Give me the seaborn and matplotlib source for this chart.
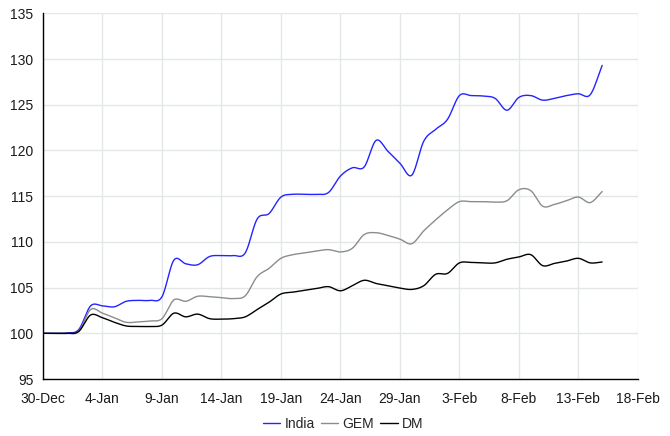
import numpy as np
import pandas as pd
import matplotlib
matplotlib.use("Agg")
import matplotlib.pyplot as plt
import seaborn as sns

# Daily index levels (30-Dec = 100), USD terms
start = pd.Timestamp("2011-12-30")
day_offsets = list(range(48))

india = [100.0, 100.0, 100.05, 100.4, 103.0, 103.0, 102.9, 103.5, 103.6, 103.6,
         104.0, 108.0, 107.6, 107.5, 108.4, 108.5, 108.5, 108.8, 112.5, 113.1,
         114.9, 115.2, 115.2, 115.2, 115.4, 117.2, 118.1, 118.2, 121.1, 119.9,
         118.6, 117.3, 121.0, 122.3, 123.4, 126.0, 126.0, 125.95, 125.7, 124.4,
         125.8, 126.0, 125.5, 125.7, 126.0, 126.2, 126.1, 129.3]
gem = [100.0, 100.0, 100.0, 100.2, 102.6, 102.2, 101.7, 101.2, 101.25, 101.35,
       101.6, 103.65, 103.5, 104.05, 104.0, 103.9, 103.8, 104.1, 106.2, 107.1,
       108.2, 108.6, 108.8, 109.0, 109.15, 108.9, 109.3, 110.8, 111.0, 110.7,
       110.3, 109.8, 111.2, 112.4, 113.5, 114.4, 114.4, 114.4, 114.35, 114.5,
       115.7, 115.6, 113.9, 114.1, 114.5, 114.9, 114.3, 115.5]
dm = [100.0, 100.0, 100.0, 100.2, 102.0, 101.7, 101.2, 100.8, 100.75, 100.75,
      100.9, 102.2, 101.8, 102.1, 101.6, 101.55, 101.6, 101.8, 102.6, 103.4,
      104.3, 104.5, 104.7, 104.9, 105.1, 104.65, 105.2, 105.8, 105.45, 105.2,
      104.95, 104.8, 105.2, 106.45, 106.55, 107.7, 107.75, 107.7, 107.7, 108.1,
      108.35, 108.6, 107.4, 107.65, 107.9, 108.2, 107.7, 107.8]

series_names = ["India", "GEM", "DM"]
series_values = [india, gem, dm]
colors = {"India": "#2424ff", "GEM": "#8c8c8c", "DM": "#000000"}

x_ticks = pd.date_range("2011-12-30", "2012-02-18", freq="5D")


def smooth_curve(t, y, steps=16):
    """Catmull-Rom spline through the points (smoothed-line rendering)."""
    t = np.asarray(t, float)
    y = np.asarray(y, float)
    tp = np.concatenate([[2 * t[0] - t[1]], t, [2 * t[-1] - t[-2]]])
    yp = np.concatenate([[2 * y[0] - y[1]], y, [2 * y[-1] - y[-2]]])
    out_t, out_y = [], []
    s = np.linspace(0, 1, steps, endpoint=False)
    for i in range(1, len(tp) - 2):
        p0, p1, p2, p3 = (np.array([tp[j], yp[j]]) for j in (i - 1, i, i + 1, i + 2))
        c1 = p1 + (p2 - p0) / 6.0
        c2 = p2 - (p3 - p1) / 6.0
        b = ((1 - s) ** 3)[:, None] * p1 + (3 * (1 - s) ** 2 * s)[:, None] * c1 \
            + (3 * (1 - s) * s ** 2)[:, None] * c2 + (s ** 3)[:, None] * p2
        out_t.extend(b[:, 0])
        out_y.extend(b[:, 1])
    out_t.append(t[-1])
    out_y.append(y[-1])
    return np.array(out_t), np.array(out_y)


frames = []
for name, vals in zip(series_names, series_values):
    ts, ys = smooth_curve(day_offsets, vals)
    frames.append(pd.DataFrame({
        "date": start + pd.to_timedelta(ts * 86400, unit="s"),
        "value": ys,
        "series": name,
    }))
df = pd.concat(frames, ignore_index=True)

sns.set_theme(style="white")
plt.rcParams["font.family"] = ["Liberation Sans", "DejaVu Sans"]

fig = plt.figure(figsize=(6.7, 4.36), dpi=100)
ax = fig.add_axes([0.0642, 0.1307, 0.8878, 0.8388])

sns.lineplot(data=df, x="date", y="value", hue="series", hue_order=series_names,
             palette=colors, estimator=None, sort=False, linewidth=1.0,
             legend=False, ax=ax)

ax.set_xlim(pd.Timestamp("2011-12-30"), pd.Timestamp("2012-02-18"))
ax.set_ylim(95, 135)
ax.set_xticks(x_ticks)
ax.set_xticklabels([f"{d.day}-{d.strftime('%b')}" for d in x_ticks])
ax.set_yticks(np.arange(95, 136, 5))
ax.set_xlabel("")
ax.set_ylabel("")

ax.grid(True, color="#e3e7e7", linewidth=1.0)
ax.set_axisbelow(True)
for side in ("top", "right"):
    ax.spines[side].set_visible(False)
for side in ("left", "bottom"):
    ax.spines[side].set_color("black")
    ax.spines[side].set_linewidth(1.0)
ax.tick_params(axis="both", which="major", direction="out", length=4, width=1.0,
               color="black", labelsize=10, labelcolor="#1a1a1a", pad=3)
ax.tick_params(axis="x", pad=5)

handles = [plt.Line2D([], [], color=colors[n], linewidth=1.0) for n in series_names]
fig.legend(handles, series_names, loc="center", bbox_to_anchor=(0.512, 0.027),
           ncol=3, frameon=False, fontsize=10, handlelength=1.25,
           handletextpad=0.3, columnspacing=0.45)

fig.savefig("out.png", dpi=100)
